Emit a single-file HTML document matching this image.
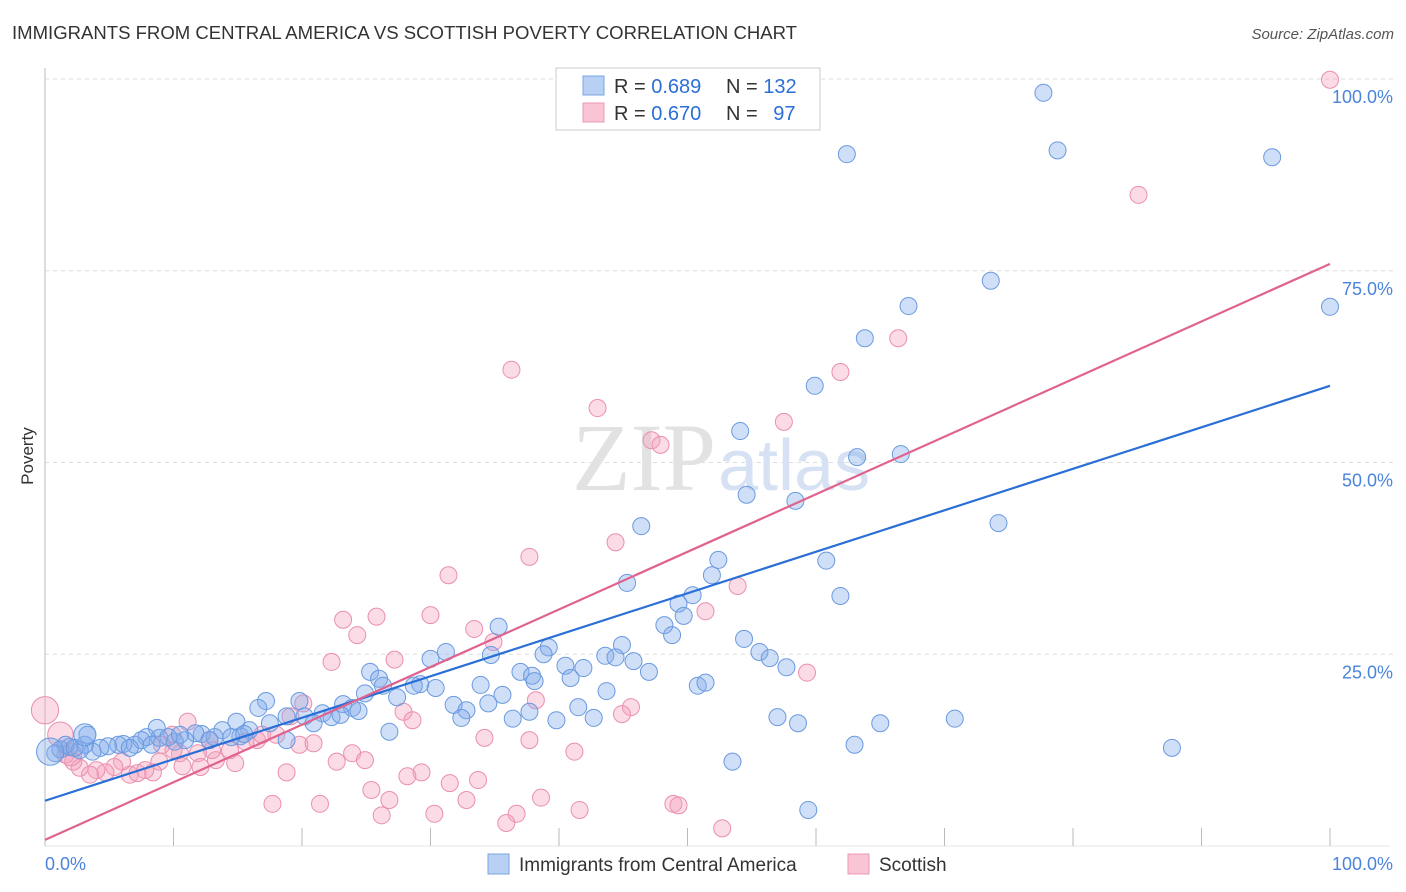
<!DOCTYPE html>
<html><head><meta charset="utf-8"><style>
body{margin:0;background:#fff;font-family:"Liberation Sans",sans-serif;}
svg{display:block}
</style></head><body>
<svg id="chart" width="1406" height="892">
<text x="12" y="39" font-size="18" fill="#333" textLength="785" lengthAdjust="spacingAndGlyphs">IMMIGRANTS FROM CENTRAL AMERICA VS SCOTTISH POVERTY CORRELATION CHART</text>
<text x="1394" y="39" font-size="15" fill="#555" font-style="italic" text-anchor="end">Source: ZipAtlas.com</text>
<text x="33" y="456" font-size="17" fill="#333" transform="rotate(-90 33 456)" text-anchor="middle">Poverty</text>
<g id="grid"></g>
<text x="716" y="490" font-size="96" fill="#e2e2e2" text-anchor="end" font-family="Liberation Serif">ZIP</text>
<text x="718" y="490" font-size="72" fill="#d6e2f3">atlas</text>
<g id="pts"></g>
<g id="lines"></g>
<g>
<rect x="556" y="68" width="264" height="62" fill="#fff" stroke="#ccc"/>
<rect x="583" y="76" width="21" height="19" fill="#b8d0f3" stroke="#7aa5e6"/>
<rect x="583" y="103" width="21" height="19" fill="#f9c5d5" stroke="#ec98b4"/>
<text x="614" y="93" font-size="20" fill="#333">R = <tspan fill="#2a6fd6">0.689</tspan></text>
<text x="726" y="93" font-size="20" fill="#333">N = <tspan fill="#2a6fd6">132</tspan></text>
<text x="614" y="120" font-size="20" fill="#333">R = <tspan fill="#2a6fd6">0.670</tspan></text>
<text x="726" y="120" font-size="20" fill="#333">N = <tspan fill="#2a6fd6" dx="10">97</tspan></text>
</g>
<g>
<rect x="488" y="854" width="21" height="20" fill="#b8d0f3" stroke="#7aa5e6"/>
<text x="519" y="871" font-size="19" fill="#333">Immigrants from Central America</text>
<rect x="848" y="854" width="21" height="20" fill="#f9c5d5" stroke="#ec98b4"/>
<text x="879" y="871" font-size="19" fill="#333">Scottish</text>
</g>
<text x="45" y="870" font-size="18" fill="#4a84dc">0.0%</text>
<text x="1393" y="870" font-size="18" fill="#4a84dc" text-anchor="end">100.0%</text>
</svg>
<script>
const yTicks=[25,50,75,100];
const yTickLabels=["25.0%","50.0%","75.0%","100.0%"];
const xTickVals=[0,10,20,30,40,50,60,70,80,90,100];
const blueX=[77.7,78.8,62.4,95.5,73.6,67.2,100,63.8,59.9,54.1,63.2,66.6,54.6,58.4,46.4,74.2,52.4,60.8,51.9,45.3,61.9,50.4,49.3,48.2,49.7,48.8,54.4,55.6,56.4,57.7,35.3,39.2,44.9,43.6,44.4,45.8,47.0,38.8,40.5,41.9,40.9,43.7,50.8,51.4,37.0,37.9,38.1,30.0,31.2,34.7,25.3,26.0,26.3,29.2,30.4,28.7,27.4,33.9,35.6,24.9,23.2,23.9,24.4,31.8,32.8,34.5,32.4,36.4,37.7,39.8,41.5,42.7,57.0,58.6,65.0,70.8,63.0,53.5,87.7,59.4,17.2,19.8,16.6,14.9,13.8,12.2,18.8,20.2,21.6,22.3,20.9,23.0,26.8,17.5,15.9,15.2,14.5,13.2,11.7,10.9,10.1,8.7,8.9,9.6,7.9,7.0,7.5,6.1,5.7,4.9,4.3,3.7,3.1,2.7,1.9,1.2,0.8,1.6,2.3,18.8,8.3,10.5,15.5,12.8,6.6,3.3,0.4,3.1];
const blueY=[98.2,90.7,90.2,89.8,73.7,70.4,70.3,66.2,60.0,54.1,50.7,51.1,45.8,45.0,41.7,42.1,37.3,37.2,35.3,34.3,32.6,32.7,31.6,28.8,30.0,27.5,27.0,25.3,24.5,23.3,28.6,25.9,26.2,24.8,24.6,24.1,22.7,25.0,23.5,23.2,21.9,20.2,20.9,21.3,22.7,22.2,21.5,24.4,25.3,24.9,22.7,21.8,20.9,21.1,20.6,20.9,19.4,21.0,19.7,19.9,18.5,18.0,17.6,18.4,17.7,18.6,16.7,16.6,17.5,16.4,18.1,16.7,16.8,16.0,16.0,16.6,13.2,11.0,12.8,4.7,18.9,18.9,18.0,16.2,15.1,14.6,16.9,16.9,17.3,16.8,16.0,17.1,14.9,16.0,15.1,14.3,14.2,14.2,14.7,13.8,13.6,15.4,14.1,14.2,14.2,13.2,13.8,13.3,13.2,13.0,12.8,12.3,13.2,12.5,12.9,12.6,12.1,13.2,12.8,13.8,13.2,14.5,14.6,13.8,12.8,14.5,12.3,14.5];
const blueSize=[];for(let i=0;i<blueX.length;i++)blueSize.push(1);blueSize[blueX.length-2]=1.6;blueSize[blueX.length-1]=1.3;
const pinkX=[100,85.1,66.4,61.9,36.3,43.0,57.5,47.2,47.9,44.4,37.7,31.4,53.9,30.0,23.2,25.8,24.3,33.4,51.4,34.9,22.3,27.2,59.3,38.2,27.9,45.6,44.9,28.6,34.2,37.7,41.2,23.9,24.9,22.7,31.5,33.7,29.3,28.2,18.8,25.4,38.6,26.8,32.8,17.7,21.4,41.6,36.7,30.3,26.2,35.9,52.7,48.9,49.3,11.1,20.1,19.1,19.8,20.9,16.5,16.9,15.6,14.4,13.3,13.0,11.9,10.5,9.9,8.9,8.4,6.6,7.2,6.0,5.4,4.7,4.0,3.5,2.7,2.2,1.6,9.1,12.1,14.8,10.0,18.0,10.7,12.8,7.8,0,1.2,2.0];
const pinkY=[99.9,84.9,66.2,61.8,62.1,57.1,55.3,52.9,52.3,39.6,37.7,35.3,33.9,30.1,29.5,29.9,27.5,28.3,30.6,26.6,24.0,24.3,22.6,19.0,17.5,18.1,17.2,16.4,14.1,13.8,12.3,12.1,11.2,11.0,8.2,8.6,9.6,9.1,9.6,7.3,6.3,6.0,6.0,5.5,5.5,4.7,4.2,4.2,4.0,3.0,2.3,5.5,5.3,16.2,18.6,16.9,13.2,13.4,13.8,14.5,13.6,12.5,11.2,12.5,12.1,12.1,14.5,11.0,9.6,9.3,9.5,11.0,10.3,9.6,9.9,9.3,10.2,11.0,11.9,13.2,10.3,10.8,12.5,14.5,10.4,13.8,9.9,17.7,14.5,11.9];
const pinkSize=[];for(let i=0;i<pinkX.length;i++)pinkSize.push(1);pinkSize[pinkX.length-3]=1.6;pinkSize[pinkX.length-2]=1.5;pinkSize[pinkX.length-1]=1.3;
const blueLine=[5.9,60.0];
const pinkLine=[0.8,75.9];

const X0=45,X1=1330,Y0=846,Y100=79;
function sx(v){return X0+(X1-X0)*v/100;}
function sy(v){return Y0-(Y0-Y100)*v/100;}
const NS="http://www.w3.org/2000/svg";
function mk(t,a,p){const e=document.createElementNS(NS,t);for(const k in a)e.setAttribute(k,a[k]);p.appendChild(e);return e;}
const grid=document.getElementById('grid');
mk('line',{x1:X0,y1:68,x2:X0,y2:Y0,stroke:'#bbb'},grid);
mk('line',{x1:X0,y1:Y0,x2:X1+60,y2:Y0,stroke:'#e5e5e5'},grid);
yTicks.forEach((t,i)=>{
 const l=mk('line',{x1:X0,y1:sy(t),x2:1395,y2:sy(t),stroke:'#ddd','stroke-dasharray':'4,4'},grid);
 
 
 const tx=mk('text',{x:1393,y:sy(t)+24,'font-size':18,fill:'#4a84dc','text-anchor':'end'},grid);
 tx.textContent=yTickLabels[i];
 
 
});
xTickVals.forEach(t=>{
 const l=mk('line',{x1:sx(t),y1:828,x2:sx(t),y2:Y0,stroke:'#bbb'},grid);
 
 
});
const pts=document.getElementById('pts');
function draw(xs,ys,ss,fill,stroke,name){
 for(let i=0;i<xs.length;i++){
  const c=mk('circle',{cx:sx(xs[i]),cy:sy(ys[i]),r:8.5*ss[i],fill:fill,stroke:stroke,'stroke-width':1},pts);
  
  
 }
}
draw(pinkX,pinkY,pinkSize,'rgba(244,160,188,0.38)','#ea8fae','scottish-point');
draw(blueX,blueY,blueSize,'rgba(130,170,235,0.38)','#6a9ae0','central-america-point');
const lines=document.getElementById('lines');
const bl=mk('line',{x1:sx(0),y1:sy(blueLine[0]),x2:sx(100),y2:sy(blueLine[1]),stroke:'#2a6fd6','stroke-width':2.2},lines);


const pl=mk('line',{x1:sx(0),y1:sy(pinkLine[0]),x2:sx(100),y2:sy(pinkLine[1]),stroke:'#e0628e','stroke-width':2.2},lines);


</script>
</body></html>
